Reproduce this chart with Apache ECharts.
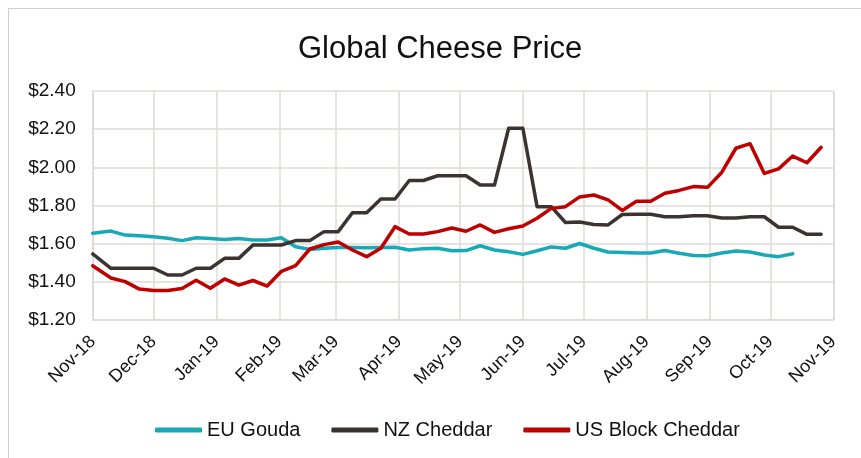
<!DOCTYPE html>
<html>
<head>
<meta charset="utf-8">
<script src="https://cdn.jsdelivr.net/npm/echarts@6/dist/echarts.min.js"></script>
<style>
html,body{margin:0;padding:0;background:#fff;}
#chart{width:861px;height:458px;}
</style>
</head>
<body>
<div id="chart"></div>
<script>
var dates = ['2018-11-01','2018-11-10','2018-11-17','2018-11-24','2018-12-01','2018-12-08','2018-12-15','2018-12-22','2018-12-29',
'2019-01-05','2019-01-12','2019-01-19','2019-01-26','2019-02-02','2019-02-09','2019-02-16','2019-02-23',
'2019-03-02','2019-03-09','2019-03-16','2019-03-23','2019-03-30','2019-04-06','2019-04-13','2019-04-20','2019-04-27',
'2019-05-04','2019-05-11','2019-05-18','2019-05-25','2019-06-01','2019-06-08','2019-06-15','2019-06-22','2019-06-29',
'2019-07-06','2019-07-13','2019-07-20','2019-07-27','2019-08-03','2019-08-10','2019-08-17','2019-08-24','2019-08-31',
'2019-09-07','2019-09-14','2019-09-21','2019-09-28','2019-10-05','2019-10-12','2019-10-19','2019-10-26'];

var euGouda = [1.655,1.666,1.645,1.642,1.636,1.628,1.616,1.631,1.627,1.622,1.627,1.619,1.619,1.631,1.584,1.570,1.576,
1.580,1.580,1.579,1.580,1.581,1.567,1.574,1.576,1.563,1.564,1.589,1.567,1.558,1.544,1.563,1.583,1.576,1.601,1.576,
1.556,1.554,1.551,1.551,1.564,1.550,1.538,1.537,1.551,1.562,1.556,1.541,1.532,1.547];

var nzCheddar = [1.546,1.471,1.471,1.471,1.471,1.436,1.436,1.471,1.471,1.523,1.523,1.593,1.593,1.593,1.616,1.616,1.663,
1.663,1.762,1.762,1.834,1.834,1.931,1.931,1.956,1.956,1.956,1.907,1.907,2.205,2.205,1.794,1.794,1.711,1.714,1.700,
1.698,1.753,1.754,1.754,1.741,1.741,1.746,1.746,1.735,1.735,1.741,1.741,1.686,1.686,1.649,1.649];

var usBlockCheddar = [1.484,1.420,1.401,1.362,1.355,1.355,1.365,1.408,1.366,1.415,1.383,1.407,1.378,1.455,1.485,1.572,1.595,
1.609,1.567,1.532,1.576,1.689,1.651,1.651,1.663,1.682,1.665,1.698,1.659,1.678,1.693,1.733,1.785,1.794,1.845,1.855,
1.829,1.774,1.822,1.822,1.864,1.879,1.899,1.895,1.973,2.100,2.124,1.968,1.992,2.059,2.024,2.105];

var seriesNames = ['EU Gouda','NZ Cheddar','US Block Cheddar'];
var monthNames = ['Jan','Feb','Mar','Apr','May','Jun','Jul','Aug','Sep','Oct','Nov','Dec'];
var xMin = '2018-11-01', xMax = '2019-11-01';
var yMin = 1.2, yMax = 2.4, yStep = 0.2;

function pair(vals){
  return vals.map(function(v,i){ return [dates[i], v]; });
}

var chart = echarts.init(document.getElementById('chart'), null, {renderer:'canvas'});
var font = '"Liberation Sans", Arial, sans-serif';
var gridColor = '#dedad7';

function lineSeries(name, vals, color){
  return {
    name: name, type: 'line', data: pair(vals),
    showSymbol: false, symbol: 'none', smooth: false,
    lineStyle: {width: 3.5, color: color, cap: 'round', join: 'round'},
    itemStyle: {color: color},
    emphasis: {disabled: true}
  };
}

chart.setOption({
  animation: false,
  backgroundColor: '#fff',
  title: {
    text: 'Global Cheese Price',
    left: 293, top: 29,
    textStyle: {fontFamily: font, fontSize: 31, fontWeight: 'normal', color: '#111'}
  },
  grid: {left: 92.7, right: 27.7, top: 91, bottom: 138, containLabel: false},
  legend: {
    data: seriesNames,
    bottom: 13, left: 150,
    itemWidth: 47, itemHeight: 5, itemGap: 31,
    icon: 'roundRect',
    textStyle: {fontFamily: font, fontSize: 20, color: '#111'}
  },
  xAxis: {
    type: 'time',
    min: xMin, max: xMax,
    splitNumber: 12,
    minInterval: 28*86400000,
    maxInterval: 31*86400000,
    axisLine: {show: true, lineStyle: {color: gridColor, width: 1.5}},
    axisTick: {show: false},
    splitLine: {show: true, lineStyle: {color: gridColor, width: 1.5}},
    axisLabel: {
      rotate: 45, margin: 19, fontFamily: font, fontSize: 18, color: '#111',
      showMinLabel: true, showMaxLabel: true, hideOverlap: false,
      formatter: function(val){
        var d = new Date(val);
        return monthNames[d.getMonth()] + '-' + String(d.getFullYear()).slice(2);
      }
    }
  },
  yAxis: {
    type: 'value',
    min: yMin, max: yMax, interval: yStep,
    axisLine: {show: true, lineStyle: {color: gridColor, width: 1.5}},
    axisTick: {show: false},
    splitLine: {show: true, lineStyle: {color: gridColor, width: 1.5}},
    axisLabel: {
      margin: 17, fontFamily: font, fontSize: 19, color: '#111',
      formatter: function(v){ return '$' + v.toFixed(2); }
    }
  },
  graphic: [
    {type: 'line', shape: {x1: 8, y1: 8.5, x2: 861, y2: 8.5}, style: {stroke: '#cfcfcf', lineWidth: 1}, silent: true},
    {type: 'line', shape: {x1: 8.5, y1: 8, x2: 8.5, y2: 458}, style: {stroke: '#cfcfcf', lineWidth: 1}, silent: true}
  ],
  series: [
    lineSeries(seriesNames[0], euGouda, '#16a9b6'),
    lineSeries(seriesNames[1], nzCheddar, '#3b3331'),
    lineSeries(seriesNames[2], usBlockCheddar, '#c00000')
  ]
});
</script>
</body>
</html>
